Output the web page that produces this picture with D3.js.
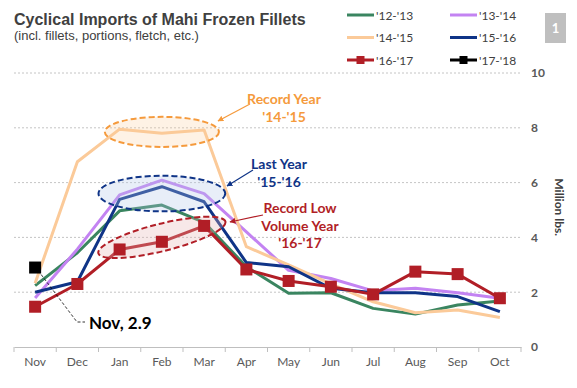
<!DOCTYPE html>
<html>
<head>
<meta charset="utf-8">
<script src="https://cdn.jsdelivr.net/npm/d3@7"></script>
<style>
  body { margin: 0; background: #fff; }
  svg { display: block; }
</style>
</head>
<body>
<svg id="svg" width="577" height="388"></svg>
<script>
// chart data
var months = ["Nov", "Dec", "Jan", "Feb", "Mar", "Apr", "May", "Jun", "Jul", "Aug", "Sep", "Oct"];
var s1213 = [2.24, 3.44, 4.97, 5.18, 4.55, 2.93, 1.96, 1.98, 1.41, 1.2, 1.53, 1.68];
var s1314 = [1.79, 3.57, 5.55, 6.09, 5.6, 4.2, 2.8, 2.5, 2.05, 2.14, 1.98, 1.78];
var s1415 = [2.33, 6.76, 7.95, 7.8, 7.92, 3.66, 3.0, 2.3, 1.65, 1.25, 1.35, 1.08];
var s1516 = [2.0, 2.38, 5.39, 5.85, 5.3, 3.08, 2.93, 2.14, 1.98, 1.98, 1.84, 1.29];
var s1617 = [1.47, 2.3, 3.56, 3.84, 4.42, 2.83, 2.41, 2.2, 1.92, 2.75, 2.66, 1.78];
var s1718 = [2.9];
var seriesNames = ["'12-'13", "'13-'14", "'14-'15", "'15-'16", "'16-'17", "'17-'18"];
var seriesColors = ["#3a8560", "#c383f2", "#fbca99", "#0f3487", "#b11e26", "#000000"];
var yTicks = [0, 2, 4, 6, 8, 10];

var series = [s1213, s1314, s1415, s1516, s1617, s1718];

var svg = d3.select("svg");
var calibri = "Lato, 'Open Sans', sans-serif";

// scales
var x = d3.scaleBand().domain(months).range([14, 521]);
var y = d3.scaleLinear().domain([0, 10]).range([347, 73]);
var cx = function (m) { return x(m) + x.bandwidth() / 2; };

// title
svg.append("text")
    .attr("x", 14).attr("y", 25)
    .attr("font-family", "'Liberation Sans', Arial, sans-serif")
    .attr("font-weight", "bold").attr("font-size", 16)
    .attr("fill", "#404040")
    .text("Cyclical Imports of Mahi Frozen Fillets");
svg.append("text")
    .attr("x", 14).attr("y", 40)
    .attr("font-family", "'Liberation Sans', Arial, sans-serif")
    .attr("font-size", 13)
    .attr("fill", "#404040")
    .text("(incl. fillets, portions, fletch, etc.)");

// gridlines
svg.append("g").selectAll("line")
    .data(yTicks.filter(function (d) { return d > 0; }))
    .enter().append("line")
    .attr("x1", 14).attr("x2", 521)
    .attr("y1", function (d) { return y(d); })
    .attr("y2", function (d) { return y(d); })
    .attr("stroke", "#b5b5b5").attr("stroke-width", 0.8)
    .attr("stroke-dasharray", "2,2");

// x axis
var xAxis = svg.append("g")
    .attr("transform", "translate(0," + y(0) + ")")
    .call(d3.axisBottom(x).tickSize(0).tickPadding(10));
xAxis.select(".domain").attr("stroke", "#bfbfbf").attr("stroke-width", 1);
xAxis.selectAll("text")
    .attr("font-family", calibri).attr("font-size", 12)
    .attr("fill", "#595959");
// tick marks at the band boundaries
xAxis.selectAll(".bound")
    .data(months.concat(["end"]))
    .enter().append("line")
    .attr("class", "bound")
    .attr("x1", function (d, i) { return i < months.length ? x(d) : x.range()[1]; })
    .attr("x2", function (d, i) { return i < months.length ? x(d) : x.range()[1]; })
    .attr("y1", 0).attr("y2", 5)
    .attr("stroke", "#bfbfbf");

// y axis on the right
var yAxis = svg.append("g")
    .attr("transform", "translate(528,0)")
    .call(d3.axisRight(y).tickValues(yTicks).tickSize(0).tickPadding(3));
yAxis.select(".domain").remove();
yAxis.selectAll("text")
    .attr("font-family", calibri).attr("font-size", 12).attr("font-weight", "bold")
    .attr("fill", "#595959");

svg.append("text")
    .attr("transform", "translate(555," + y(5.1) + ") rotate(90)")
    .attr("text-anchor", "middle")
    .attr("font-family", calibri).attr("font-size", 12).attr("font-weight", "bold")
    .attr("fill", "#404040")
    .text("Million lbs.");

// lines
var line = d3.line()
    .x(function (d, i) { return cx(months[i]); })
    .y(function (d) { return y(d); });

var lineGroup = svg.append("g");
series.forEach(function (s, k) {
    if (s.length > 1) {
        lineGroup.append("path")
            .attr("d", line(s))
            .attr("fill", "none")
            .attr("stroke", seriesColors[k])
            .attr("stroke-width", 3)
            .attr("stroke-linejoin", "round");
    }
});

// annotation ellipses (placed in data units)
function ellipse(month, val, rxBands, ryVal, angle, fill, stroke) {
    svg.append("ellipse")
        .attr("transform", "translate(" + cx(month) + "," + y(val) + ") rotate(" + angle + ")")
        .attr("rx", rxBands * x.bandwidth())
        .attr("ry", y(0) - y(ryVal))
        .attr("fill", fill)
        .attr("stroke", stroke)
        .attr("stroke-width", 2)
        .attr("stroke-dasharray", "6,3");
}
ellipse("Feb", 7.85, 1.35, 0.55, 0, "rgba(251,202,153,0.25)", "#f59a3c");
ellipse("Feb", 5.6, 1.5, 0.65, 0, "rgba(180,198,231,0.3)", "#0f3487");
ellipse("Feb", 4.0, 1.55, 0.5, -14, "rgba(230,180,180,0.3)", "#b11e26");

// markers
var markerGroup = svg.append("g");
[4, 5].forEach(function (k) {
    markerGroup.selectAll(".m" + k)
        .data(series[k])
        .enter().append("rect")
        .attr("x", function (d, i) { return cx(months[i]) - 6; })
        .attr("y", function (d) { return y(d) - 6; })
        .attr("width", 12).attr("height", 12)
        .attr("fill", seriesColors[k]);
});

// annotation texts and arrows
svg.append("defs").selectAll("marker")
    .data(["#f59a3c", "#0f3487", "#b11e26"])
    .enter().append("marker")
    .attr("id", function (d, i) { return "arr" + i; })
    .attr("viewBox", "0 0 10 10")
    .attr("refX", 9).attr("refY", 5)
    .attr("markerWidth", 5).attr("markerHeight", 5)
    .attr("orient", "auto")
    .append("path").attr("d", "M0,0 L10,5 L0,10 z")
    .attr("fill", function (d) { return d; });

function note(lines, xc, y0, color, arrowFrom, arrowTo, idx) {
    var t = svg.append("text")
        .attr("text-anchor", "middle")
        .attr("font-family", calibri).attr("font-size", 14).attr("font-weight", "bold")
        .attr("fill", color);
    lines.forEach(function (l, i) {
        t.append("tspan").attr("x", xc).attr("y", y0 + i * 17.5).text(l);
    });
    svg.append("line")
        .attr("x1", arrowFrom[0]).attr("y1", arrowFrom[1])
        .attr("x2", arrowTo[0]).attr("y2", arrowTo[1])
        .attr("stroke", color).attr("stroke-width", 1.2)
        .attr("marker-end", "url(#arr" + idx + ")");
}
note(["Record Year", "'14-'15"], 284, 104, "#f59a3c", [250, 104], [218, 121], 0);
note(["Last Year", "'15-'16"], 279, 169, "#0f3487", [253, 170], [227, 186], 1);
note(["Record Low", "Volume Year", "'16-'17"], 300, 213, "#b11e26", [263, 215], [230, 222], 2);

// data label for Nov of '17-'18
svg.append("path")
    .attr("d", d3.line()([[cx("Nov") + 3, y(2.9) + 3], [77, 322], [85, 322]]))
    .attr("fill", "none").attr("stroke", "#000").attr("stroke-width", 0.8)
    .attr("stroke-dasharray", "3,2");
svg.append("text")
    .attr("x", 89).attr("y", 329)
    .attr("font-family", calibri).attr("font-size", 17).attr("font-weight", "bold")
    .attr("fill", "#000")
    .text("Nov, 2.9");

// legend
var legend = svg.append("g");
seriesNames.forEach(function (name, k) {
    var lx = k % 2 === 0 ? 347 : 450;
    var ly = 15 + Math.floor(k / 2) * 22.5;
    legend.append("line")
        .attr("x1", lx).attr("x2", lx + 27)
        .attr("y1", ly).attr("y2", ly)
        .attr("stroke", seriesColors[k]).attr("stroke-width", 3);
    if (k >= 4) {
        legend.append("rect")
            .attr("x", lx + 9.5).attr("y", ly - 4)
            .attr("width", 8).attr("height", 8)
            .attr("fill", seriesColors[k]);
    }
    legend.append("text")
        .attr("x", lx + 29).attr("y", ly + 4.5)
        .attr("font-family", calibri).attr("font-size", 12)
        .attr("fill", "#404040")
        .text(name);
});

// page number box
svg.append("rect")
    .attr("x", 545).attr("y", 13).attr("width", 21).attr("height", 30)
    .attr("fill", "#bfbfbf");
svg.append("text")
    .attr("x", 555.5).attr("y", 33).attr("text-anchor", "middle")
    .attr("font-family", calibri).attr("font-size", 13).attr("font-weight", "bold")
    .attr("fill", "#fff")
    .text("1");
</script>
</body>
</html>
